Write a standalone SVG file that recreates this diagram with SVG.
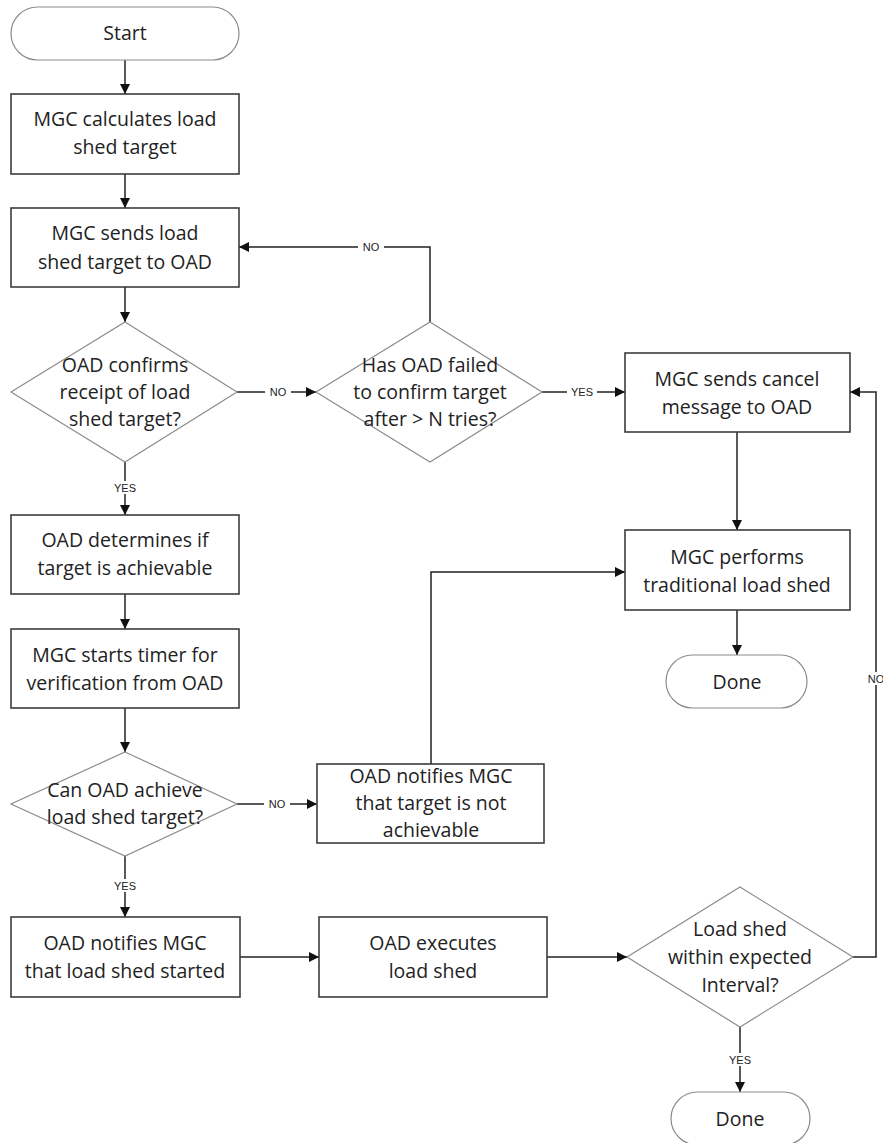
<svg xmlns="http://www.w3.org/2000/svg" width="883" height="1143" viewBox="0 0 883 1143">
<defs>
<marker id="ah" markerWidth="10" markerHeight="10" refX="10" refY="5" orient="auto" markerUnits="userSpaceOnUse">
<path d="M0,0 L10,5 L0,10 Z" fill="#111"/>
</marker>
<style>
.box{fill:#fff;stroke:#3c3c3c;stroke-width:1.6}
.dia{fill:#fff;stroke:#8c8c8c;stroke-width:1.2}
.term{fill:#fff;stroke:#8c8c8c;stroke-width:1.2}
.t{font-family:"Open Sans","Liberation Sans",sans-serif;font-size:19.5px;fill:#222;text-anchor:middle}
.lbl{font-family:"Liberation Sans",sans-serif;font-size:11px;fill:#222;text-anchor:middle}
.lb{fill:#fff}
.c{fill:none;stroke:#222;stroke-width:1.5}
</style>
</defs>
<rect width="883" height="1143" fill="#fff"/>
<g id="connectors">
<path class="c" d="M125,60 V94" marker-end="url(#ah)"/>
<path class="c" d="M125,174 V208" marker-end="url(#ah)"/>
<path class="c" d="M125,287 V322" marker-end="url(#ah)"/>
<path class="c" d="M237,392 H316" marker-end="url(#ah)"/>
<path class="c" d="M430,322 V247 H239" marker-end="url(#ah)"/>
<path class="c" d="M542,392 H625" marker-end="url(#ah)"/>
<path class="c" d="M125,462 V515" marker-end="url(#ah)"/>
<path class="c" d="M125,594 V629" marker-end="url(#ah)"/>
<path class="c" d="M125,708 V752" marker-end="url(#ah)"/>
<path class="c" d="M237,804 H317" marker-end="url(#ah)"/>
<path class="c" d="M431,764 V572 H625" marker-end="url(#ah)"/>
<path class="c" d="M737,432 V530" marker-end="url(#ah)"/>
<path class="c" d="M737,610 V655" marker-end="url(#ah)"/>
<path class="c" d="M125,856 V917" marker-end="url(#ah)"/>
<path class="c" d="M240,957 H319" marker-end="url(#ah)"/>
<path class="c" d="M547,957 H627" marker-end="url(#ah)"/>
<path class="c" d="M853,957 H876 V392 H850" marker-end="url(#ah)"/>
<path class="c" d="M740,1027 V1092" marker-end="url(#ah)"/>
<rect class="lb" x="265" y="385" width="26" height="13"/>
<text class="lbl" x="278" y="396">NO</text>
<rect class="lb" x="358" y="240" width="26" height="13"/>
<text class="lbl" x="371" y="251">NO</text>
<rect class="lb" x="567" y="385" width="30" height="13"/>
<text class="lbl" x="582" y="396">YES</text>
<rect class="lb" x="110" y="481" width="30" height="13"/>
<text class="lbl" x="125" y="492">YES</text>
<rect class="lb" x="264" y="797" width="26" height="13"/>
<text class="lbl" x="277" y="808">NO</text>
<rect class="lb" x="110" y="879" width="30" height="13"/>
<text class="lbl" x="125" y="890">YES</text>
<rect class="lb" x="725" y="1053" width="30" height="13"/>
<text class="lbl" x="740" y="1064">YES</text>
<rect class="lb" x="862" y="672" width="26" height="13"/>
<text class="lbl" x="876" y="683">NO</text>
</g>
<g id="start">
<rect class="term" x="11" y="7" width="228" height="53" rx="26.5"/>
<text class="t" x="125" y="40">Start</text>
</g>
<g id="calc">
<rect class="box" x="11" y="94" width="228" height="80"/>
<text class="t" x="125" y="126">MGC calculates load</text>
<text class="t" x="125" y="154">shed target</text>
</g>
<g id="send">
<rect class="box" x="11" y="208" width="228" height="79"/>
<text class="t" x="125" y="240">MGC sends load</text>
<text class="t" x="125" y="269">shed target to OAD</text>
</g>
<g id="confirm">
<polygon class="dia" points="125,322 237,392 125,462 11,392"/>
<text class="t" x="125" y="372">OAD confirms</text>
<text class="t" x="125" y="399">receipt of load</text>
<text class="t" x="125" y="426">shed target?</text>
</g>
<g id="failed">
<polygon class="dia" points="430,322 542,392 430,462 316,392"/>
<text class="t" x="430" y="372">Has OAD failed</text>
<text class="t" x="430" y="399">to confirm target</text>
<text class="t" x="430" y="426">after &gt; N tries?</text>
</g>
<g id="cancel">
<rect class="box" x="625" y="353" width="225" height="79"/>
<text class="t" x="737" y="386">MGC sends cancel</text>
<text class="t" x="737" y="414">message to OAD</text>
</g>
<g id="traditional">
<rect class="box" x="625" y="530" width="225" height="80"/>
<text class="t" x="737" y="564">MGC performs</text>
<text class="t" x="737" y="592">traditional load shed</text>
</g>
<g id="done1">
<rect class="term" x="666" y="655" width="141" height="53" rx="26.5"/>
<text class="t" x="737" y="689">Done</text>
</g>
<g id="determines">
<rect class="box" x="11" y="515" width="228" height="79"/>
<text class="t" x="125" y="547">OAD determines if</text>
<text class="t" x="125" y="575">target is achievable</text>
</g>
<g id="timer">
<rect class="box" x="11" y="629" width="228" height="79"/>
<text class="t" x="125" y="662">MGC starts timer for</text>
<text class="t" x="125" y="690">verification from OAD</text>
</g>
<g id="achieve">
<polygon class="dia" points="125,752 237,804 125,856 11,804"/>
<text class="t" x="125" y="797">Can OAD achieve</text>
<text class="t" x="125" y="824">load shed target?</text>
</g>
<g id="notachievable">
<rect class="box" x="317" y="764" width="227" height="79"/>
<text class="t" x="431" y="783">OAD notifies MGC</text>
<text class="t" x="431" y="810">that target is not</text>
<text class="t" x="431" y="837">achievable</text>
</g>
<g id="started">
<rect class="box" x="11" y="917" width="229" height="80"/>
<text class="t" x="125" y="950">OAD notifies MGC</text>
<text class="t" x="125" y="978">that load shed started</text>
</g>
<g id="executes">
<rect class="box" x="319" y="917" width="228" height="80"/>
<text class="t" x="433" y="950">OAD executes</text>
<text class="t" x="433" y="978">load shed</text>
</g>
<g id="interval">
<polygon class="dia" points="740,887 853,957 740,1027 627,957"/>
<text class="t" x="740" y="936">Load shed</text>
<text class="t" x="740" y="964">within expected</text>
<text class="t" x="740" y="992">Interval?</text>
</g>
<g id="done2">
<rect class="term" x="671" y="1092" width="139" height="53" rx="26.5"/>
<text class="t" x="740" y="1126">Done</text>
</g>
</svg>
